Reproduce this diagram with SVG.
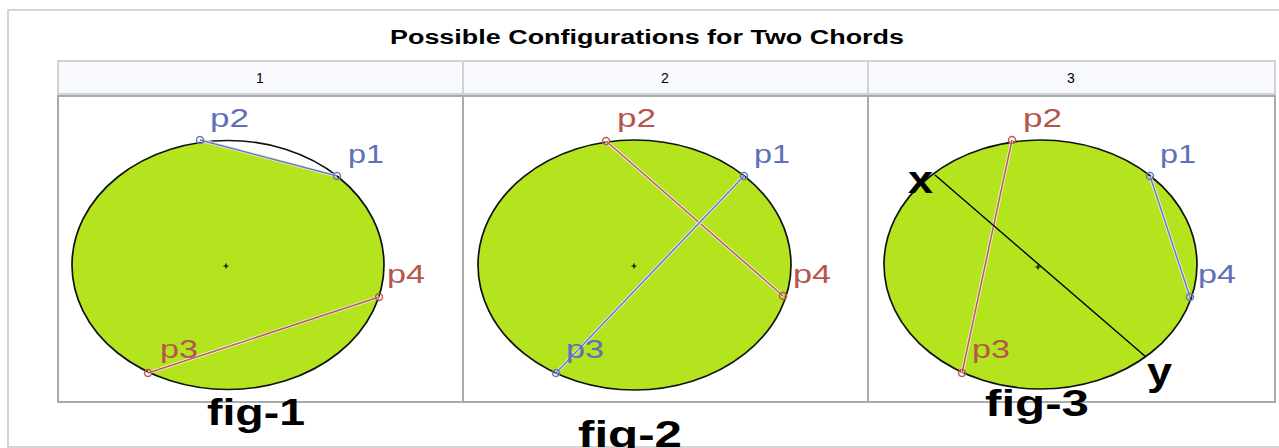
<svg xmlns="http://www.w3.org/2000/svg" width="1279" height="448" viewBox="0 0 1279 448">
<style>
.outer{fill:#fff;stroke:#d4d4d4;stroke-width:2}
.hdr{fill:#f7f9fd;stroke:#cfd3d7;stroke-width:2}
.panel{fill:#fff;stroke:#a7abaf;stroke-width:2}
.title{font-family:"Liberation Sans",Arial,sans-serif;font-weight:bold;font-size:20px;fill:#000}
.htxt{font-family:"Liberation Sans",Arial,sans-serif;font-size:14px;fill:#000;text-anchor:middle}
.disk{fill:#b4e41e;stroke:none}
.rim{fill:none;stroke:#111;stroke-width:1.7}
.halo{stroke:#eef0e8;stroke-width:3.2;fill:none}
.cb{stroke:#6a78c2;stroke-width:1.5;fill:none}
.cr{stroke:#bb5c55;stroke-width:1.5;fill:none}
.pb{fill:none;stroke:#6a78c2;stroke-width:1.5}
.pr{fill:none;stroke:#bb5c55;stroke-width:1.5}
.lb{font-family:"Liberation Sans",Arial,sans-serif;font-size:26px;fill:#6070b8}
.lr{font-family:"Liberation Sans",Arial,sans-serif;font-size:26px;fill:#b5564e}
.fig{font-family:"Liberation Sans",Arial,sans-serif;font-weight:bold;font-size:36px;fill:#000}
.xy{font-family:"Liberation Sans",Arial,sans-serif;font-weight:bold;font-size:38px;fill:#000}
.ctr{stroke:#000;stroke-width:1.2}
.diam{stroke:#000;stroke-width:1.4}
</style>
<defs>
<clipPath id="e1"><ellipse cx="228" cy="265" rx="156" ry="124.5"/></clipPath>
</defs>
<rect class="outer" x="8" y="10" width="1280" height="437"/>
<text class="title" x="390" y="44" textLength="514" lengthAdjust="spacingAndGlyphs">Possible Configurations for Two Chords</text>
<g id="headers">
<rect class="hdr" x="58" y="61" width="405" height="33"/>
<rect class="hdr" x="463" y="61" width="405" height="33"/>
<rect class="hdr" x="868" y="61" width="407" height="33"/>
<text class="htxt" x="260" y="83">1</text>
<text class="htxt" x="665" y="83">2</text>
<text class="htxt" x="1071" y="83">3</text>
</g>
<g id="panel1">
<rect class="panel" x="58" y="96" width="405" height="306"/>
<ellipse class="disk" cx="228" cy="265" rx="156" ry="124.5"/>
<polygon fill="#fff" clip-path="url(#e1)" points="60,103.2 400,192.6 400,100 60,100"/>
<ellipse class="rim" cx="228" cy="265" rx="156" ry="124.5"/>
<path class="ctr" d="M223.5,266h5M226,263.5v5"/>
</g>
<g id="panel2">
<rect class="panel" x="463" y="96" width="405" height="306"/>
<ellipse class="disk" cx="634.5" cy="265" rx="156.5" ry="125"/>
<ellipse class="rim" cx="634.5" cy="265" rx="156.5" ry="125"/>
<path class="ctr" d="M631.5,266h5M634,263.5v5"/>
</g>
<g id="panel3">
<rect class="panel" x="868" y="96" width="407" height="306"/>
<ellipse class="disk" cx="1040.5" cy="264.5" rx="156.5" ry="124.5"/>
<ellipse class="rim" cx="1040.5" cy="264.5" rx="156.5" ry="124.5"/>
<path class="ctr" d="M1035.5,267h5M1038,264.5v5"/>
</g>
<g id="connectors">
<line class="halo" x1="200" y1="140" x2="337" y2="176"/>
<line class="cb" x1="200" y1="140" x2="337" y2="176"/>
<line class="halo" x1="148" y1="373" x2="379" y2="297"/>
<line class="cr" x1="148" y1="373" x2="379" y2="297"/>
<line class="halo" x1="606" y1="141" x2="783" y2="296"/>
<line class="cr" x1="606" y1="141" x2="783" y2="296"/>
<line class="halo" x1="556" y1="373" x2="744" y2="176"/>
<line class="cb" x1="556" y1="373" x2="744" y2="176"/>
<line class="halo" x1="1012" y1="140" x2="962" y2="373"/>
<line class="cr" x1="1012" y1="140" x2="962" y2="373"/>
<line class="halo" x1="1150" y1="176" x2="1190" y2="297"/>
<line class="cb" x1="1150" y1="176" x2="1190" y2="297"/>
<line class="diam" x1="935" y1="175" x2="1146" y2="357"/>
</g>
<g id="points">
<circle class="pb" cx="200" cy="140" r="3.5"/>
<circle class="pb" cx="337" cy="176" r="3.5"/>
<circle class="pr" cx="379" cy="297" r="3.5"/>
<circle class="pr" cx="148" cy="373" r="3.5"/>
<circle class="pr" cx="606" cy="141" r="3.5"/>
<circle class="pb" cx="744" cy="176" r="3.5"/>
<circle class="pr" cx="783" cy="296" r="3.5"/>
<circle class="pb" cx="556" cy="373" r="3.5"/>
<circle class="pr" cx="1012" cy="140" r="3.5"/>
<circle class="pb" cx="1150" cy="176" r="3.5"/>
<circle class="pb" cx="1190" cy="297" r="3.5"/>
<circle class="pr" cx="962" cy="373" r="3.5"/>
</g>
<g id="labels">
<text class="lb" x="210" y="127" textLength="39" lengthAdjust="spacingAndGlyphs">p2</text>
<text class="lb" x="348" y="163" textLength="36" lengthAdjust="spacingAndGlyphs">p1</text>
<text class="lr" x="387" y="283" textLength="38" lengthAdjust="spacingAndGlyphs">p4</text>
<text class="lr" x="160" y="358" textLength="38" lengthAdjust="spacingAndGlyphs">p3</text>
<text class="lr" x="617" y="127" textLength="39" lengthAdjust="spacingAndGlyphs">p2</text>
<text class="lb" x="754" y="163" textLength="36" lengthAdjust="spacingAndGlyphs">p1</text>
<text class="lr" x="793" y="283" textLength="38" lengthAdjust="spacingAndGlyphs">p4</text>
<text class="lb" x="566" y="358" textLength="38" lengthAdjust="spacingAndGlyphs">p3</text>
<text class="lr" x="1023" y="127" textLength="39" lengthAdjust="spacingAndGlyphs">p2</text>
<text class="lb" x="1160" y="163" textLength="36" lengthAdjust="spacingAndGlyphs">p1</text>
<text class="lb" x="1198" y="283" textLength="38" lengthAdjust="spacingAndGlyphs">p4</text>
<text class="lr" x="972" y="358" textLength="38" lengthAdjust="spacingAndGlyphs">p3</text>
<text class="xy" x="908" y="193" textLength="25" lengthAdjust="spacingAndGlyphs">x</text>
<text class="xy" x="1147" y="385" textLength="25" lengthAdjust="spacingAndGlyphs">y</text>
<text class="fig" x="207" y="425" textLength="98" lengthAdjust="spacingAndGlyphs">fig-1</text>
<text class="fig" x="578" y="447" textLength="104" lengthAdjust="spacingAndGlyphs">fig-2</text>
<text class="fig" x="985" y="416" textLength="104" lengthAdjust="spacingAndGlyphs">fig-3</text>
</g>
</svg>
